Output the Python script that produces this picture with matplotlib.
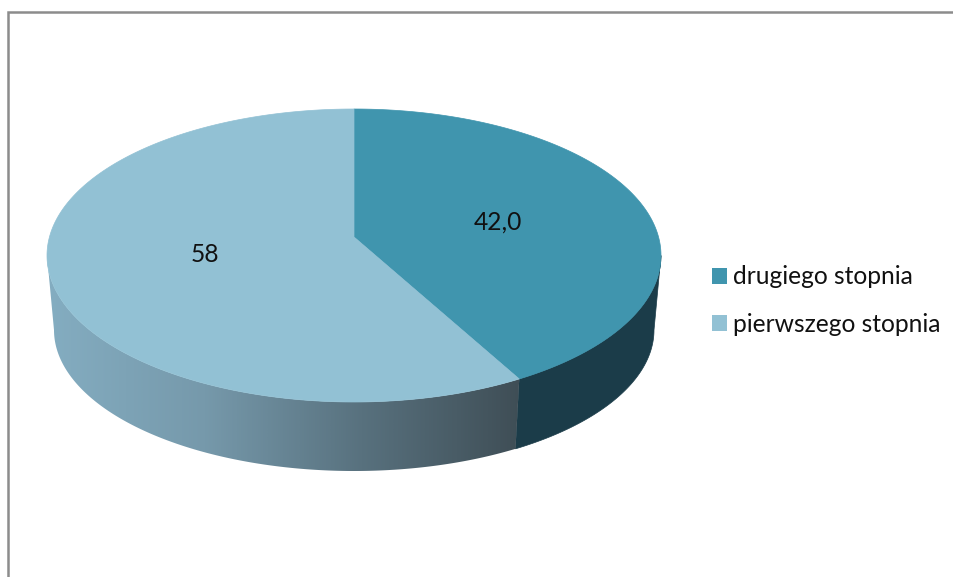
import numpy as np
import matplotlib
matplotlib.use("Agg")
import matplotlib.pyplot as plt
from matplotlib.patches import Polygon, Patch
from matplotlib.colors import LinearSegmentedColormap

# --- data ---
categories = ["drugiego stopnia", "pierwszego stopnia"]
values = [42.0, 58.0]
value_labels = ["42,0", "58"]

# --- style ---
top_colors = ["#4095AE", "#92C1D4"]
wall_dark = "#1B3C49"
wall_stops = ["#84ADC1", "#7699AB", "#58717E", "#3F4E56"]
frame_color = "#8C8C8C"
font = ["Lato", "DejaVu Sans"]

W, H = 954, 577
fig = plt.figure(figsize=(W / 100, H / 100), dpi=100)
ax = fig.add_axes([0, 0, 1, 1])
ax.set_xlim(0, W)
ax.set_ylim(H, 0)
ax.axis("off")

# pie geometry in pixel space
cx, cy, rx, ry = 354.0, 255.5, 307.0, 146.5
bx, by, brx, bry = 354.0, 330.0, 300.0, 141.0
apex = (354.0, 237.0)
ray_ry = 145.0


def top_pt(t):
    return cx + rx * np.sin(t), cy - ry * np.cos(t)


def bottom_pt(t):
    return bx + brx * np.sin(t), by - bry * np.cos(t)


def boundary_param(theta):
    """Parameter on the rim hit by the ray from the apex at true angle theta."""
    dx, dy = rx * np.sin(theta), -ray_ry * np.cos(theta)
    ox, oy = apex[0] - cx, apex[1] - cy
    a = (dx / rx) ** 2 + (dy / ry) ** 2
    b = 2 * (ox * dx / rx**2 + oy * dy / ry**2)
    c = (ox / rx) ** 2 + (oy / ry) ** 2 - 1
    s = (-b + np.sqrt(b * b - 4 * a * c)) / (2 * a)
    x, y = apex[0] + s * dx, apex[1] + s * dy
    return np.arctan2((x - cx) / rx, -(y - cy) / ry) % (2 * np.pi)


total = sum(values)
seam = boundary_param(2 * np.pi * values[0] / total)


def wall_poly(t0, t1):
    ts = np.linspace(t0, t1, 200)
    tx, ty = top_pt(ts)
    bx_, by_ = bottom_pt(ts[::-1])
    return np.column_stack([np.r_[tx, bx_], np.r_[ty, by_]])


# side walls
ax.add_patch(Polygon(wall_poly(np.pi / 2, seam), closed=True, fc=wall_dark, ec=wall_dark, lw=0.5))
left = Polygon(wall_poly(seam, 3 * np.pi / 2), closed=True, fc="none", ec="none")
ax.add_patch(left)
cmap = LinearSegmentedColormap.from_list("wall", wall_stops)
im = ax.imshow(np.linspace(0, 1, 512).reshape(1, -1), cmap=cmap, aspect="auto",
               extent=(cx - rx, top_pt(seam)[0], by + bry + 5, cy - 5), zorder=1)
im.set_clip_path(left)
ax.set_xlim(0, W)
ax.set_ylim(H, 0)

# top faces
ts0 = np.linspace(0, seam, 300)
ts1 = np.linspace(seam, 2 * np.pi, 400)
for ts, col in zip([ts0, ts1], top_colors):
    x, y = top_pt(ts)
    ax.add_patch(Polygon(np.column_stack([np.r_[apex[0], x], np.r_[apex[1], y]]),
                         closed=True, fc=col, ec=col, lw=0.5, zorder=2))

# value labels
for lab, pos in zip(value_labels, [(498, 222), (205, 255)]):
    ax.text(*pos, lab, ha="center", va="center", fontsize=17.7, family=font,
            color="#111111", zorder=3)

# frame
ax.plot([8.5, 8.5, W], [H, 11.5, 11.5], color=frame_color, lw=1.8, solid_joinstyle="miter", zorder=0)

# legend
handles = [Patch(fc=c, ec="none") for c in top_colors]
ax.legend(handles, categories, loc="upper left", bbox_to_anchor=(704.5 / W, 1 - 258 / H),
          frameon=False, prop={"family": font, "size": 17.7}, handlelength=0.6,
          handleheight=0.6, handletextpad=0.27, labelspacing=0.99, borderpad=0.3,
          borderaxespad=0, labelcolor="#111111")

fig.savefig("out.png", dpi=100)
